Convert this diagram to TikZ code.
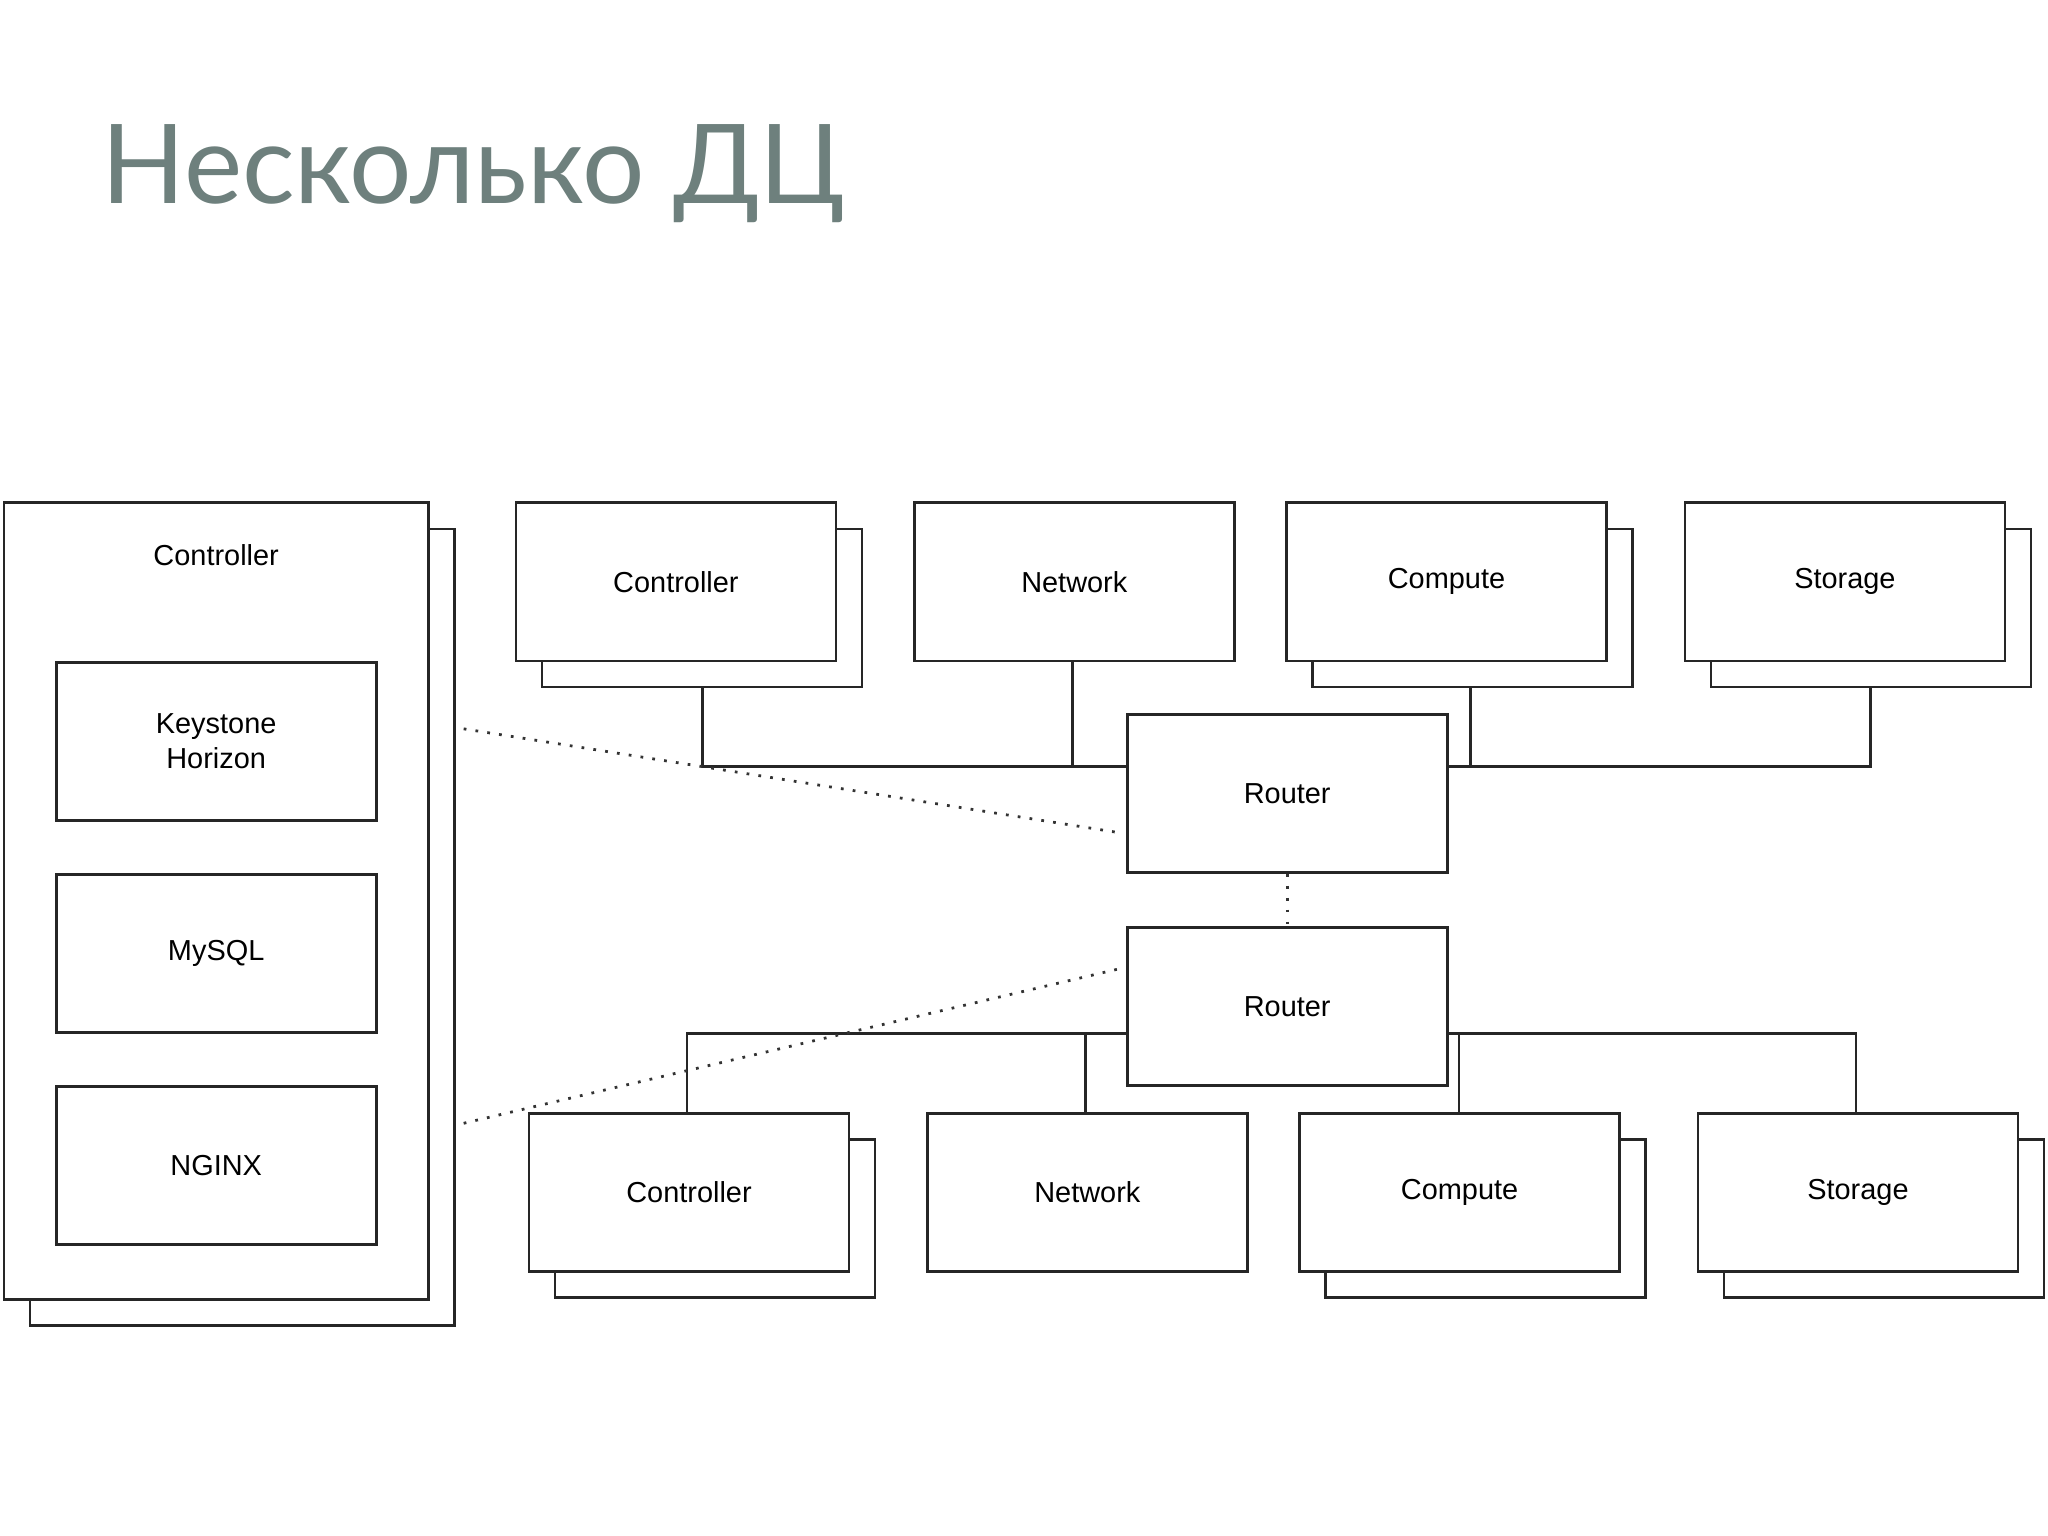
\documentclass[tikz,border=0pt]{standalone}
\usepackage{fontspec}
\setmainfont{Liberation Sans}
\newfontfamily\titlefont{Lato}
\definecolor{titlecol}{HTML}{6E807D}
\begin{document}
\begin{tikzpicture}[x=0.1mm,y=-0.1mm,
  box/.style={draw=black!85,fill=white,line width=0.6pt,minimum width=24.5mm,minimum height=12.1mm,inner sep=0pt,font=\fontsize{6.3pt}{7.6pt}\selectfont,align=center},
  link/.style={draw=black!85,line width=0.6pt},
  dots/.style={draw=black!80,line width=0.6pt,dotted}]
\useasboundingbox (0,0) rectangle (1568,1176);
\fill[white] (0,0) rectangle (1568,1176);
\node[anchor=base west,text=titlecol,font=\titlefont\fontsize{24pt}{28pt}\selectfont,inner sep=0pt] (title) at (77,156) {Несколько ДЦ};
% big controller
\node[box,minimum width=32.5mm,minimum height=61mm] (bigs) at (185.5,710) {};
\node[box,minimum width=32.5mm,minimum height=61mm] (big) at (165.5,690) {};
\node[font=\fontsize{6.3pt}{7.6pt}\selectfont] (bigt) at (165.5,425) {Controller};
\node[box] (ks) at (165.5,567.5) {Keystone\\Horizon};
\node[box] (my) at (165.5,730) {MySQL};
\node[box] (ng) at (165.5,892.5) {NGINX};
% top row
\node[box] (c1s) at (537.5,465.5) {};
\node[box] (c1) at (517.5,445.5) {Controller};
\node[box] (n1) at (822.5,445.5) {Network};
\node[box] (p1s) at (1127.5,465.5) {};
\node[box] (p1) at (1107.5,445.5) {Compute};
\node[box] (s1s) at (1432.5,465.5) {};
\node[box] (s1) at (1412.5,445.5) {Storage};
\node[box] (r1) at (985.5,607.5) {Router};
\node[box] (r2) at (985.5,770.5) {Router};
% bottom row
\node[box] (c2s) at (547.5,933) {};
\node[box] (c2) at (527.5,913) {Controller};
\node[box] (n2) at (832.5,913) {Network};
\node[box] (p2s) at (1137.5,933) {};
\node[box] (p2) at (1117.5,913) {Compute};
\node[box] (s2s) at (1442.5,933) {};
\node[box] (s2) at (1422.5,913) {Storage};
% top bus
\draw[link] (c1s.south -| 538,0) |- (r1.west |- 0,587);
\draw[link] (n1.south -| 821,0) -- (821,587);
\draw[link] (r1.east |- 0,587) -| (s1s.south -| 1432,0);
\draw[link] (p1s.south -| 1126,0) -- (1126,587);
% bottom bus
\draw[link] (c2.north -| 526,0) |- (r2.west |- 0,791);
\draw[link] (n2.north -| 831,0) -- (831,791);
\draw[link] (r2.east |- 0,791) -| (s2.north -| 1421,0);
\draw[link] (p2.north -| 1117,0) -- (1117,791);
% dotted
\coordinate (d1) at (355,558);
\coordinate (d2) at (355,860);
\draw[dots] (d1) -- (860,638);
\draw[dots] (d2) -- (860,741);
\draw[dots] (r1.south) -- (r2.north);
\end{tikzpicture}
\end{document}
